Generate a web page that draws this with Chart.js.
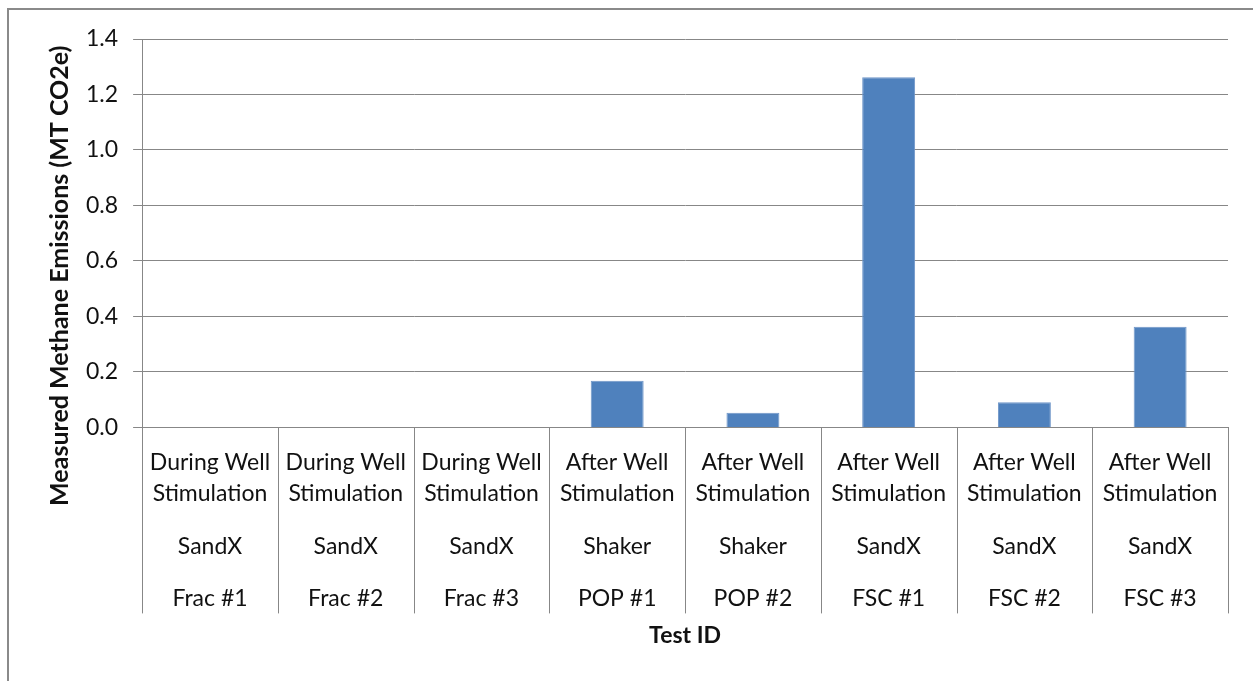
<!DOCTYPE html>
<html>
<head>
  <title>Measured Methane Emissions</title>
  <script src="https://cdn.jsdelivr.net/npm/chart.js"></script>
  <style>
    body {
      margin: 0;
      background-color: white;
    }
    .frame {
      position: absolute;
      left: 7px;
      top: 8px;
      width: 1300px;
      height: 700px;
      border: 2px solid #8a8a8a;
    }
    .box {
      position: absolute;
      left: 0;
      top: 0;
      width: 1253px;
      height: 681px;
    }
  </style>
</head>
<body>
  <div class="frame"></div>
  <div class="box">
    <canvas id="chart" width="1253" height="681"></canvas>
  </div>
<script>
// three label rows of the category axis
const phase = [
  ['During Well', 'Stimulation'], ['During Well', 'Stimulation'], ['During Well', 'Stimulation'],
  ['After Well', 'Stimulation'], ['After Well', 'Stimulation'], ['After Well', 'Stimulation'],
  ['After Well', 'Stimulation'], ['After Well', 'Stimulation']
];
const device = ['SandX', 'SandX', 'SandX', 'Shaker', 'Shaker', 'SandX', 'SandX', 'SandX'];
const testIds = ['Frac #1', 'Frac #2', 'Frac #3', 'POP #1', 'POP #2', 'FSC #1', 'FSC #2', 'FSC #3'];

const emissions = [0, 0, 0, 0.168, 0.053, 1.262, 0.091, 0.363];

const yTicks = [0, 0.2, 0.4, 0.6, 0.8, 1.0, 1.2, 1.4];

const gridColor = '#878787';
const textColor = '#111111';
const fontFam = 'Lato, "Open Sans", sans-serif';
const fs = 23;
const row3Pad = 22.5;

// vertical separators between categories, running down through the label rows
const separators = {
  id: 'separators',
  afterDraw(chart) {
    const x = chart.scales.x;
    const ctx = chart.ctx;
    const top = chart.chartArea.bottom;
    const bottom = chart.scales.x3.top + row3Pad + fs / 2 + 15;
    const n = testIds.length;
    ctx.save();
    ctx.strokeStyle = gridColor;
    ctx.lineWidth = 1;
    for (let i = 0; i <= n; i++) {
      let px;
      if (i === 0) px = x.left;
      else if (i === n) px = x.right;
      else px = (x.getPixelForValue(i - 1) + x.getPixelForValue(i)) / 2;
      px = Math.round(px) + 0.5;
      ctx.beginPath();
      ctx.moveTo(px, top);
      ctx.lineTo(px, bottom);
      ctx.stroke();
    }
    ctx.restore();
  }
};

Chart.defaults.font.family = fontFam;
Chart.defaults.color = textColor;

new Chart(document.getElementById('chart'), {
  type: 'bar',
  data: {
    labels: phase,
    datasets: [{
      data: emissions,
      backgroundColor: '#4f81bd',
      borderColor: '#6f96c8',
      borderWidth: 1,
      barPercentage: 0.39,
      categoryPercentage: 1.0
    }]
  },
  options: {
    responsive: false,
    animation: false,
    events: [],
    layout: {
      padding: { top: 39, right: 25, left: 45, bottom: 32 }
    },
    plugins: {
      legend: { display: false },
      tooltip: { enabled: false }
    },
    scales: {
      y: {
        min: 0,
        max: 1.4,
        afterBuildTicks(axis) {
          axis.ticks = yTicks.map(v => ({ value: v }));
        },
        ticks: {
          font: { size: fs },
          padding: 15,
          callback: v => v.toFixed(1)
        },
        grid: { color: gridColor, tickLength: 9 },
        border: { color: gridColor },
        title: {
          display: true,
          // trailing spaces push the rotated title down, as in the original
          text: 'Measured Methane Emissions (MT CO2e)              ',
          font: { size: 25, weight: 'bold' },
          padding: { top: 0, bottom: -4 }
        }
      },
      x: {
        grid: { display: false, drawTicks: false },
        border: { color: gridColor },
        ticks: {
          font: { size: fs, lineHeight: '31px' },
          padding: 19.5,
          maxRotation: 0,
          autoSkip: false
        }
      },
      x2: {
        type: 'category',
        position: 'bottom',
        labels: device,
        offset: true,
        grid: { display: false, drawTicks: false },
        border: { display: false },
        ticks: {
          font: { size: fs, lineHeight: fs + 'px' },
          padding: 6.5,
          maxRotation: 0,
          autoSkip: false
        }
      },
      x3: {
        type: 'category',
        position: 'bottom',
        labels: testIds,
        offset: true,
        grid: { display: false, drawTicks: false },
        border: { display: false },
        ticks: {
          font: { size: fs, lineHeight: fs + 'px' },
          padding: row3Pad,
          maxRotation: 0,
          autoSkip: false
        },
        title: {
          display: true,
          text: 'Test ID',
          font: { size: fs, weight: 'bold' },
          padding: { top: -11, bottom: 0 }
        }
      }
    }
  },
  plugins: [separators]
});
</script>
</body>
</html>
